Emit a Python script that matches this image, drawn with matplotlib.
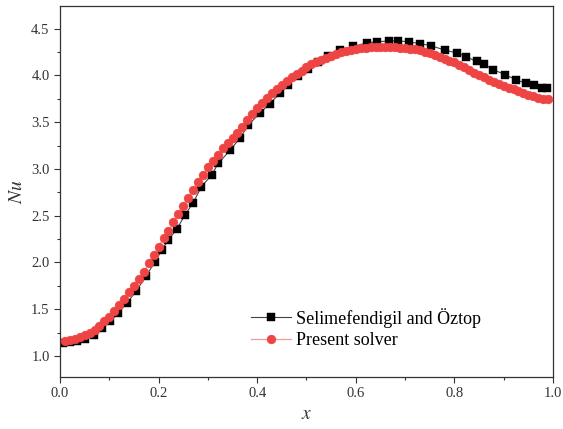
import matplotlib.pyplot as plt
from matplotlib.ticker import MultipleLocator

plt.rcParams['font.family'] = ['Liberation Serif', 'DejaVu Serif']
plt.rcParams['mathtext.fontset'] = 'stix'

# Selimefendigil and Öztop (reference data)
ref_x = [0.007, 0.020, 0.035, 0.051, 0.068, 0.085, 0.101, 0.118, 0.136, 0.154,
         0.174, 0.193, 0.206, 0.220, 0.237, 0.254, 0.270, 0.287, 0.308, 0.321,
         0.345, 0.365, 0.382, 0.406, 0.426, 0.446, 0.463, 0.483, 0.504, 0.524,
         0.544, 0.568, 0.595, 0.623, 0.643, 0.668, 0.686, 0.708, 0.730, 0.752,
         0.781, 0.806, 0.824, 0.845, 0.860, 0.879, 0.903, 0.926, 0.945, 0.961,
         0.977, 0.988]
ref_nu = [1.135, 1.145, 1.160, 1.180, 1.225, 1.300, 1.370, 1.460, 1.570, 1.690,
          1.850, 2.010, 2.130, 2.240, 2.360, 2.510, 2.640, 2.810, 2.940, 3.060,
          3.200, 3.330, 3.470, 3.600, 3.700, 3.810, 3.900, 3.990, 4.070, 4.140,
          4.210, 4.270, 4.310, 4.350, 4.360, 4.370, 4.370, 4.360, 4.340, 4.320,
          4.270, 4.240, 4.200, 4.150, 4.120, 4.060, 4.010, 3.950, 3.920, 3.900,
          3.870, 3.870]

# Present solver
sol_x = [0.01, 0.02, 0.03, 0.04, 0.05, 0.06, 0.07, 0.08, 0.09, 0.10,
         0.11, 0.12, 0.13, 0.14, 0.15, 0.16, 0.17, 0.18, 0.19, 0.20,
         0.21, 0.22, 0.23, 0.24, 0.25, 0.26, 0.27, 0.28, 0.29, 0.30,
         0.31, 0.32, 0.33, 0.34, 0.35, 0.36, 0.37, 0.38, 0.39, 0.40,
         0.41, 0.42, 0.43, 0.44, 0.45, 0.46, 0.47, 0.48, 0.49, 0.50,
         0.51, 0.52, 0.53, 0.54, 0.55, 0.56, 0.57, 0.58, 0.59, 0.60,
         0.61, 0.62, 0.63, 0.64, 0.65, 0.66, 0.67, 0.68, 0.69, 0.70,
         0.71, 0.72, 0.73, 0.74, 0.75, 0.76, 0.77, 0.78, 0.79, 0.80,
         0.81, 0.82, 0.83, 0.84, 0.85, 0.86, 0.87, 0.88, 0.89, 0.90,
         0.91, 0.92, 0.93, 0.94, 0.95, 0.96, 0.97, 0.98, 0.99]
sol_nu = [1.160, 1.170, 1.180, 1.200, 1.220, 1.250, 1.280, 1.320, 1.370, 1.420,
          1.480, 1.540, 1.610, 1.680, 1.750, 1.820, 1.900, 1.990, 2.080, 2.170,
          2.260, 2.340, 2.430, 2.520, 2.600, 2.690, 2.770, 2.860, 2.940, 3.020,
          3.080, 3.150, 3.220, 3.280, 3.330, 3.390, 3.450, 3.520, 3.590, 3.650,
          3.710, 3.760, 3.810, 3.860, 3.900, 3.940, 3.980, 4.020, 4.050, 4.090,
          4.120, 4.140, 4.170, 4.190, 4.210, 4.230, 4.250, 4.260, 4.270, 4.280,
          4.290, 4.290, 4.300, 4.300, 4.300, 4.300, 4.300, 4.300, 4.295, 4.290,
          4.285, 4.280, 4.270, 4.255, 4.240, 4.220, 4.200, 4.180, 4.160, 4.140,
          4.110, 4.090, 4.060, 4.030, 4.000, 3.980, 3.950, 3.930, 3.910, 3.890,
          3.870, 3.850, 3.830, 3.810, 3.790, 3.780, 3.760, 3.750, 3.745]

fig = plt.figure(figsize=(5.63, 4.29), dpi=100)
ax = fig.add_axes([0.1066, 0.1212, 0.8756, 0.8648])

ax.plot(ref_x, ref_nu, color='#444444', lw=0.8, marker='s', ms=6.2,
        mec='black', mfc='black', mew=0.3, label='Selimefendigil and Öztop', zorder=2)
ax.plot(sol_x, sol_nu, color='#f59a9a', lw=0.9, marker='o', ms=6.4,
        mec='#ef4444', mfc='#ef4444', mew=0.3, label='Present solver', zorder=3)

ax.set_xlim(0, 1.0)
ax.set_ylim(0.775, 4.743)
ax.xaxis.set_major_locator(MultipleLocator(0.2))
ax.xaxis.set_minor_locator(MultipleLocator(0.1))
ax.yaxis.set_major_locator(MultipleLocator(0.5))
ax.yaxis.set_minor_locator(MultipleLocator(0.25))
ax.tick_params(which='both', direction='out', colors='#333333', labelsize=10.5)
ax.tick_params(which='major', length=4, width=0.8)
ax.tick_params(which='minor', length=2.5, width=0.8)
for s in ax.spines.values():
    s.set_color('#333333')
    s.set_linewidth(0.9)

ax.set_xlabel('$x$', fontsize=14, color='#333333')
ax.set_ylabel('$Nu$', fontsize=14, color='#333333')

ax.legend(loc='upper left', bbox_to_anchor=(0.355, 0.23), frameon=False,
          fontsize=13, handlelength=2.2, labelspacing=0.25, handletextpad=0.3)

fig.savefig('out.png', dpi=100)
